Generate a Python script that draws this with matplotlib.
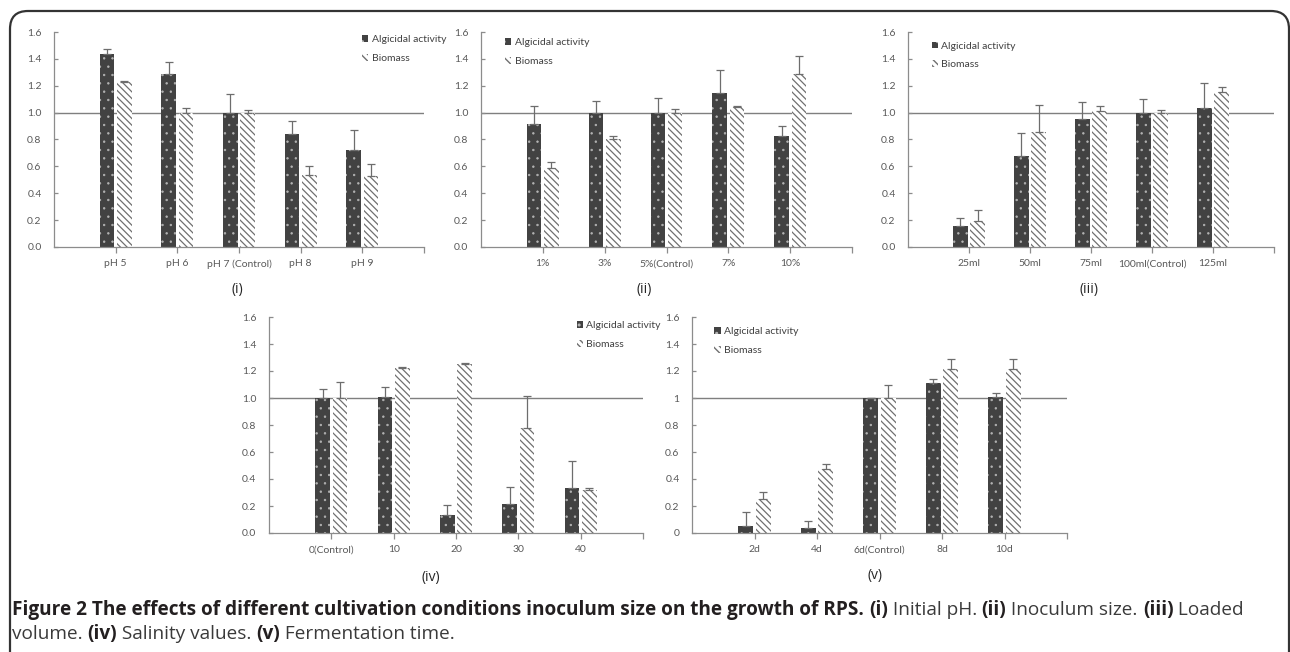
import numpy as np
import matplotlib
matplotlib.use("Agg")
import matplotlib.pyplot as plt
from matplotlib.patches import FancyBboxPatch
from matplotlib.transforms import IdentityTransform

# ---- data ----
ph_labels = ["pH 5", "pH 6", "pH 7 (Control)", "pH 8", "pH 9"]
ph_algi = [1.44, 1.29, 1.00, 0.84, 0.725]
ph_algi_err = [0.03, 0.09, 0.14, 0.10, 0.145]
ph_bio = [1.23, 1.00, 1.00, 0.535, 0.53]
ph_bio_err = [0.005, 0.035, 0.017, 0.065, 0.087]

inoc_labels = ["1%", "3%", "5%(Control)", "7%", "10%"]
inoc_algi = [0.913, 0.995, 1.00, 1.149, 0.824]
inoc_algi_err = [0.14, 0.09, 0.11, 0.17, 0.075]
inoc_bio = [0.586, 0.804, 1.00, 1.04, 1.29]
inoc_bio_err = [0.05, 0.02, 0.03, 0.012, 0.13]

vol_labels = ["25ml", "50ml", "75ml", "100ml(Control)", "125ml"]
vol_algi = [0.156, 0.675, 0.953, 1.00, 1.037]
vol_algi_err = [0.06, 0.17, 0.125, 0.10, 0.18]
vol_bio = [0.191, 0.856, 1.012, 1.00, 1.156]
vol_bio_err = [0.087, 0.20, 0.04, 0.017, 0.037]

sal_labels = ["0(Control)", "10", "20", "30", "40"]
sal_algi = [1.00, 1.011, 0.134, 0.213, 0.337]
sal_algi_err = [0.065, 0.07, 0.075, 0.13, 0.20]
sal_bio = [1.00, 1.224, 1.251, 0.775, 0.315]
sal_bio_err = [0.117, 0.003, 0.007, 0.243, 0.015]

time_labels = ["2d", "4d", "6d(Control)", "8d", "10d"]
time_algi = [0.054, 0.040, 1.00, 1.11, 1.011]
time_algi_err = [0.104, 0.047, 0.0, 0.03, 0.027]
time_bio = [0.255, 0.471, 1.00, 1.214, 1.214]
time_bio_err = [0.052, 0.037, 0.10, 0.074, 0.074]

W, H = 1290, 652
fig = plt.figure(figsize=(W / 100, H / 100), dpi=100)

tick_font = "Lato"
grey = "#595959"
axis_grey = "#8c8c8c"


def px_axes(x0, x1, ytop, ybot):
    return fig.add_axes([x0 / W, 1 - ybot / H, (x1 - x0) / W, (ybot - ytop) / H])


def draw_panel(ax, labels, algi, algi_err, bio, bio_err, leg_xy, short_ticks=False):
    x = np.arange(1, len(labels) + 1)
    bw = 0.235
    off = 0.14
    ax.axhline(1.0, color="#7f7f7f", lw=1.0, zorder=1)
    with plt.rc_context({"hatch.linewidth": 0.5}):
        ax.bar(x - off, algi, bw, color="#424242", edgecolor="#b4b4b4", linewidth=0,
               hatch="..", zorder=2, label="Algicidal activity")
    with plt.rc_context({"hatch.linewidth": 0.9}):
        ax.bar(x + off, bio, bw, color="white", edgecolor="#707070", linewidth=0,
               hatch="\\\\\\\\\\", zorder=2, label="Biomass")
    ax.errorbar(x - off, algi, yerr=[np.zeros(len(algi)), algi_err], fmt="none",
                ecolor="#6d6d6d", elinewidth=0.9, capsize=2.8, capthick=0.9, zorder=3)
    ax.errorbar(x + off, bio, yerr=[np.zeros(len(bio)), bio_err], fmt="none",
                ecolor="#6d6d6d", elinewidth=0.9, capsize=2.8, capthick=0.9, zorder=3)
    ax.set_xlim(0, len(labels) + 1)
    ax.set_ylim(0, 1.6)
    ax.set_xticks(list(x) + [len(labels) + 1])
    ax.set_xticklabels(labels + [""], fontsize=7.5, color=grey, family=tick_font)
    yt = np.arange(0, 1.61, 0.2)
    ax.set_yticks(yt)
    if short_ticks:
        ylab = ["%g" % round(v, 1) for v in yt]
    else:
        ylab = ["%.1f" % v for v in yt]
    ax.set_yticklabels(ylab, fontsize=7.5, color=grey, family=tick_font)
    ax.tick_params(axis="x", direction="out", length=4, width=0.9, color=axis_grey, pad=5)
    ax.tick_params(axis="y", direction="in", length=3, width=0.9, color=axis_grey, pad=9)
    for s in ["top", "right"]:
        ax.spines[s].set_visible(False)
    for s in ["left", "bottom"]:
        ax.spines[s].set_color(axis_grey)
        ax.spines[s].set_linewidth(0.9)
    ax.legend(loc="upper left", bbox_to_anchor=leg_xy, frameon=False, borderpad=0,
              handlelength=0.6, handleheight=0.6, handletextpad=0.3, labelspacing=0.95,
              prop={"family": tick_font, "size": 7.5}, labelcolor="#404040")


ax1 = px_axes(54, 424, 32, 247)
draw_panel(ax1, ph_labels, ph_algi, ph_algi_err, ph_bio, ph_bio_err, (0.819, 1.01))
ax2 = px_axes(481, 852, 32, 247)
draw_panel(ax2, inoc_labels, inoc_algi, inoc_algi_err, inoc_bio, inoc_bio_err, (0.051, 0.995))
ax3 = px_axes(908, 1274, 32, 247)
draw_panel(ax3, vol_labels, vol_algi, vol_algi_err, vol_bio, vol_bio_err, (0.051, 0.98))
ax4 = px_axes(269, 643, 317, 533)
draw_panel(ax4, sal_labels, sal_algi, sal_algi_err, sal_bio, sal_bio_err, (0.809, 1.005))
ax5 = px_axes(692, 1067, 317, 533)
draw_panel(ax5, time_labels, time_algi, time_algi_err, time_bio, time_bio_err, (0.046, 0.977),
           short_ticks=True)

# panel captions
for lab, px, py in [("(i)", 237, 290), ("(ii)", 644, 290), ("(iii)", 1089, 290),
                    ("(iv)", 431, 577), ("(v)", 875, 576)]:
    fig.text(px / W, 1 - py / H, lab, ha="center", va="center", fontsize=10,
             family="Open Sans", color="#262626")

# rounded frame round the figure
frame = FancyBboxPatch((10, -40), 1279, 681, boxstyle="round,pad=0,rounding_size=18",
                       transform=IdentityTransform(), fill=False, edgecolor="#333333", lw=1.6)
fig.add_artist(frame)

# figure caption, bold and normal runs
cap_lines = [
    [("Figure 2 The effects of different cultivation conditions inoculum size on the growth of RPS.", True),
     (" ", False), ("(i)", True), (" Initial pH. ", False), ("(ii)", True),
     (" Inoculum size. ", False), ("(iii)", True), (" Loaded", False)],
    [("volume. ", False), ("(iv)", True), (" Salinity values. ", False), ("(v)", True),
     (" Fermentation time.", False)],
]
renderer = fig.canvas.get_renderer()


def place_line(line, ybase, size, draw=True):
    xpos = 12
    made = []
    for txt, bold in line:
        t = fig.text(xpos / W, 1 - ybase / H, txt, ha="left", va="baseline", fontsize=size,
                     family="Open Sans", fontweight="bold" if bold else "normal",
                     color="#231f20" if bold else "#3a3a3a")
        xpos += t.get_window_extent(renderer).width
        made.append(t)
    if not draw:
        for t in made:
            t.remove()
    return xpos


# fit the first caption line to its width in the reference
end = place_line(cap_lines[0], 616, 11, draw=False)
cap_size = 11 * (1243 - 12) / (end - 12)
for line, ybase in zip(cap_lines, [615, 639]):
    place_line(line, ybase, cap_size)

fig.savefig("out.png", dpi=100)
